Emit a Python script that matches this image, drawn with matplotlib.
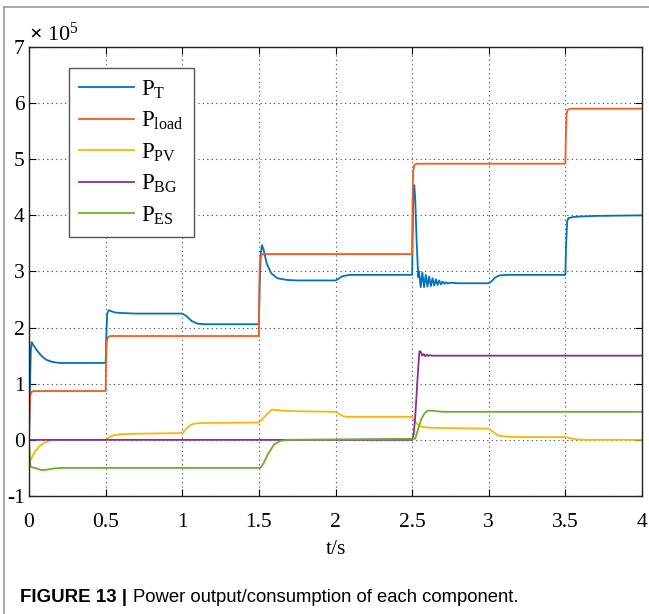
import matplotlib.pyplot as plt
from matplotlib.lines import Line2D

plt.rcParams['font.family'] = ['Liberation Serif', 'DejaVu Serif']
plt.rcParams['mathtext.fontset'] = 'custom'
plt.rcParams['mathtext.rm'] = 'Liberation Serif'
plt.rcParams['mathtext.it'] = 'Liberation Serif:italic'
plt.rcParams['mathtext.bf'] = 'Liberation Serif:bold'
plt.rcParams['axes.unicode_minus'] = False

# values, power in units of 1e5 W
t_T = [0, 0.005, 0.012, 0.017, 0.025, 0.05, 0.08, 0.11, 0.15, 0.2, 0.25,
       0.5, 0.505, 0.51, 0.52, 0.53, 0.56, 0.6, 0.7,
       1.0, 1.03, 1.06, 1.1, 1.15,
       1.5, 1.505, 1.512, 1.52, 1.53, 1.55, 1.58, 1.62, 1.68, 1.75,
       2.0, 2.02, 2.04, 2.07, 2.1,
       2.5, 2.503, 2.508, 2.514, 2.52, 2.53, 2.54,
       2.545, 2.556, 2.567, 2.578, 2.589, 2.6, 2.611, 2.622, 2.633, 2.644,
       2.655, 2.666, 2.677, 2.688, 2.699, 2.71, 2.721, 2.732, 2.75, 2.8,
       3.0, 3.02, 3.04, 3.07, 3.12,
       3.5, 3.505, 3.512, 3.52, 3.55, 3.6, 3.7, 4.0]
p_T = [0, 0.8, 1.6, 1.74, 1.7, 1.6, 1.5, 1.43, 1.39, 1.37, 1.37,
       1.37, 1.9, 2.25, 2.31, 2.3, 2.27, 2.26, 2.25,
       2.25, 2.2, 2.12, 2.07, 2.06,
       2.06, 2.7, 3.3, 3.47, 3.4, 3.15, 2.97, 2.88, 2.85, 2.84,
       2.84, 2.87, 2.91, 2.93, 2.94,
       2.94, 3.6, 4.4, 4.54, 4.3, 3.5, 2.9,
       3.0, 2.72, 2.98, 2.72, 2.94, 2.73, 2.91, 2.74, 2.88, 2.75,
       2.86, 2.76, 2.84, 2.77, 2.82, 2.78, 2.81, 2.785, 2.8, 2.79,
       2.79, 2.83, 2.89, 2.93, 2.94,
       2.94, 3.5, 3.9, 3.95, 3.97, 3.98, 3.99, 4.0]

t_load = [0, 0.004, 0.008, 0.015, 0.03,
          0.5, 0.503, 0.507, 0.515, 0.53,
          1.5, 1.503, 1.507, 1.515, 1.53,
          2.5, 2.503, 2.507, 2.515, 2.53,
          3.5, 3.503, 3.507, 3.515, 3.53, 4.0]
p_load = [0, 0.55, 0.78, 0.85, 0.87,
          0.87, 1.5, 1.75, 1.83, 1.85,
          1.85, 2.8, 3.2, 3.29, 3.31,
          3.31, 4.3, 4.8, 4.9, 4.92,
          4.92, 5.4, 5.8, 5.88, 5.9, 5.9]

t_PV = [0, 0.004, 0.01, 0.02, 0.04, 0.07, 0.1, 0.14, 0.2,
        0.5, 0.52, 0.55, 0.6, 0.7,
        1.0, 1.02, 1.05, 1.08, 1.12,
        1.5, 1.52, 1.55, 1.585, 1.62, 1.66, 1.75,
        2.0, 2.02, 2.05, 2.08,
        2.5, 2.52, 2.55, 2.6, 2.7,
        3.0, 3.03, 3.06, 3.1, 3.2,
        3.5, 3.53, 3.57, 3.62, 4.0]
p_PV = [0, -0.3, -0.37, -0.3, -0.2, -0.11, -0.05, -0.01, 0.0,
        0.0, 0.04, 0.08, 0.1, 0.11,
        0.12, 0.18, 0.26, 0.29, 0.3,
        0.31, 0.36, 0.45, 0.54, 0.53, 0.52, 0.51,
        0.5, 0.47, 0.42, 0.41,
        0.41, 0.32, 0.24, 0.22, 0.21,
        0.2, 0.14, 0.08, 0.06, 0.05,
        0.05, 0.03, 0.01, 0.0, 0.0]

t_BG = [0, 2.5, 2.51, 2.52, 2.53, 2.54, 2.548, 2.556, 2.565, 2.575, 2.585,
        2.595, 2.605, 2.615, 2.63, 4.0]
p_BG = [0, 0, 0.1, 0.4, 0.85, 1.3, 1.58, 1.57, 1.5, 1.53, 1.49,
        1.52, 1.495, 1.51, 1.5, 1.5]

t_ES = [0, 0.004, 0.01, 0.02, 0.04, 0.07, 0.09, 0.12, 0.16, 0.22,
        1.51, 1.53, 1.56, 1.6, 1.64, 1.68,
        2.52, 2.54, 2.56, 2.58, 2.6, 2.63, 2.7, 4.0]
p_ES = [0, -0.3, -0.47, -0.49, -0.5, -0.53, -0.54, -0.53, -0.51, -0.5,
        -0.5, -0.42, -0.25, -0.08, -0.02, 0.0,
        0.02, 0.2, 0.37, 0.47, 0.52, 0.52, 0.5, 0.5]

labels = [r'P$_{\mathrm{T}}$', r'P$_{\mathrm{load}}$', r'P$_{\mathrm{PV}}$',
          r'P$_{\mathrm{BG}}$', r'P$_{\mathrm{ES}}$']
colors = ['#0072BD', '#F55A1E', '#FFB400', '#8E2C96', '#6CB02A']

fig = plt.figure(figsize=(6.49, 6.14), dpi=100)
ax = fig.add_axes([0.0447, 0.1922, 0.9445, 0.7313])

series = [(t_T, p_T), (t_load, p_load), (t_PV, p_PV), (t_BG, p_BG), (t_ES, p_ES)]
for (t, p), c, lab in zip(series, colors, labels):
    ax.plot(t, p, color=c, lw=1.3, label=lab)

ax.set_xlim(0, 4)
ax.set_ylim(-1, 7)
ax.set_xticks([0, 0.5, 1, 1.5, 2, 2.5, 3, 3.5, 4])
ax.set_xticklabels(['0', '0.5', '1', '1.5', '2', '2.5', '3', '3.5', '4'])
ax.set_yticks(range(-1, 8))
ax.tick_params(direction='in', top=True, right=True, labelsize=15.5,
               length=5, width=0.8)
ax.tick_params(axis='x', pad=12)
ax.tick_params(axis='y', pad=3)
for s in ax.spines.values():
    s.set_linewidth(1.0)
    s.set_color('#222222')
ax.grid(True, color='#444444', linestyle=(0, (1, 3)), linewidth=0.8)
ax.set_xlabel('t/s', fontsize=15.5, labelpad=6)

leg = ax.legend(loc='upper left', bbox_to_anchor=(0.065, 0.953), fontsize=16.5,
                frameon=True, fancybox=False, framealpha=1, edgecolor='#555555',
                handlelength=2.4, handletextpad=0.3, labelspacing=0.4,
                borderpad=0.45, borderaxespad=0)
leg.get_frame().set_linewidth(1.0)

fig.text(0.045, 0.925, r'$\mathbf{\times}$ 10$^{5}$', fontsize=16, ha='left', va='bottom')

# journal frame and caption
fig.add_artist(Line2D([4 / 649, 1], [1 - 7 / 614, 1 - 7 / 614], color='#999999', lw=1.2))
fig.add_artist(Line2D([4 / 649, 4 / 649], [0, 1 - 7 / 614], color='#999999', lw=1.2))
fig.text(20 / 649, 1 - 598 / 614, 'FIGURE 13 |', fontsize=13.5, fontweight='bold',
         family='Liberation Sans', va='center', ha='left')
fig.text(133 / 649, 1 - 598 / 614, 'Power output/consumption of each component.',
         fontsize=13.3, family='Liberation Sans', va='center', ha='left')

plt.savefig('out.png', dpi=100)
